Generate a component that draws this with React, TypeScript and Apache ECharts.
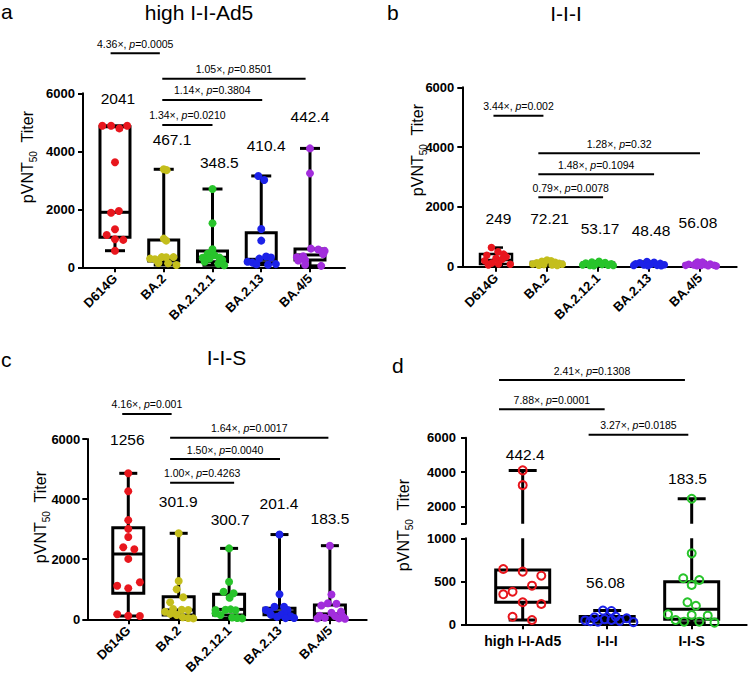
import React, { useEffect, useRef } from 'react';
import * as echarts from 'echarts';

// ---------------- categories & ticks ----------------
const variants = ['D614G', 'BA.2', 'BA.2.12.1', 'BA.2.13', 'BA.4/5'];
const regimens = ['high I-I-Ad5', 'I-I-I', 'I-I-S'];
const panelTitles = ['high I-I-Ad5', 'I-I-I', 'I-I-S'];
const panelLetters = ['a', 'b', 'c', 'd'];

// ---------------- panel a (high I-I-Ad5) ----------------
const aD614G = [4880, 4880, 4790, 4880, 3620, 1880, 1940, 1310, 1115, 965, 945, 572];
const aBA2 = [3380, 3350, 990, 920, 300, 280, 350, 345, 350, 150, 140, 80];
const aBA2121 = [2700, 1520, 620, 470, 420, 340, 330, 300, 250, 190, 120, 70];
const aBA213 = [3150, 3010, 1320, 920, 370, 340, 300, 190, 160, 110, 100, 90];
const highAd5BA45 = [4100, 3240, 643, 612, 565, 449, 379, 349, 256, 236, 88, 50];
const boxA = [
  [572, 1034, 1897, 4848, 4880],
  [80, 217, 310, 941, 3380],
  [70, 193, 345, 560, 2700],
  [90, 159, 276, 1193, 3150],
  [50, 256, 426, 631, 4100],
];
const gmtA = ['2041', '467.1', '348.5', '410.4', '442.4'];
const cmpA = [['4.36×', '0.0005'], ['1.05×', '0.8501'], ['1.14×', '0.3804'], ['1.34×', '0.0210']];

// ---------------- panel b (I-I-I) ----------------
const bD614G = [640, 500, 420, 380, 330, 280, 250, 200, 120, 90, 80, 60];
const bBA2 = [220, 200, 180, 150, 130, 110, 90, 80, 70, 60, 50, 40];
const bBA2121 = [180, 160, 140, 120, 100, 90, 70, 60, 50, 40, 40, 30];
const bBA213 = [170, 150, 130, 110, 95, 80, 65, 55, 45, 40, 35, 30];
const iiiBA45 = [160, 155, 90, 80, 70, 60, 50, 45, 40, 35, 30, 25];
const boxB = [
  [60, 90, 224, 425, 640],
  [40, 65, 100, 160, 220],
  [30, 45, 80, 130, 180],
  [30, 40, 72, 120, 170],
  [25, 35, 55, 90, 160],
];
const gmtB = ['249', '72.21', '53.17', '48.48', '56.08'];
const cmpB = [['3.44×', '0.002'], ['1.28×', '0.32'], ['1.48×', '0.1094'], ['0.79×', '0.0078']];

// ---------------- panel c (I-I-S) ----------------
const cD614G = [4858, 4260, 3300, 3010, 2740, 2400, 2330, 2010, 1231, 1118, 1032, 166, 120, 110];
const cBA2 = [2862, 1275, 998, 732, 566, 340, 320, 310, 253, 180, 143, 70, 43, 30];
const cBA2121 = [2360, 1252, 918, 865, 720, 330, 320, 310, 300, 200, 143, 60, 43, 30];
const cBA213 = [2820, 832, 420, 420, 310, 310, 253, 200, 150, 150, 100, 80, 43, 40];
const iisBA45 = [2450, 825, 535, 515, 457, 256, 216, 116, 108, 100, 50, 30, 30, 19];
const boxC = [
  [110, 865, 2173, 3049, 4858],
  [30, 143, 310, 753, 2862],
  [30, 143, 330, 832, 2360],
  [40, 150, 250, 370, 2820],
  [19, 60, 180, 476, 2450],
];
const gmtC = ['1256', '301.9', '300.7', '201.4', '183.5'];
const cmpC = [['4.16×', '0.001'], ['1.64×', '0.0017'], ['1.50×', '0.0040'], ['1.00×', '0.4263']];

// ---------------- panel d (BA.4/5 across regimens) ----------------
const boxD = [
  [50, 256, 426, 631, 4100],
  [25, 35, 55, 90, 160],
  [19, 60, 175, 495, 2450],
];
const gmtD = ['442.4', '56.08', '183.5'];
const cmpD = [['2.41×', '0.1308'], ['7.88×', '0.0001'], ['3.27×', '0.0185']];

// ---------------- layout (jitter, label and bracket placement) ----------------
const jitA = [
  [-0.26, -0.08, 0.09, 0.25, 0, -0.08, 0.08, 0, -0.17, 0, 0.17, 0],
  [0, 0.06, 0, 0.05, -0.28, -0.18, -0.04, 0.05, 0.2, -0.11, 0.09, 0.26],
  [0, 0, 0, -0.1, 0.04, 0.14, -0.2, -0.06, 0.2, -0.16, 0.12, 0.24],
  [-0.06, 0.06, 0, 0, 0.1, 0.2, -0.04, -0.28, -0.18, 0.3, -0.1, 0.14],
  [0, 0, 0.02, 0.17, 0.3, 0.27, -0.14, -0.27, -0.1, -0.24, -0.1, 0.23],
];
const jitB = [
  [-0.09, 0.04, 0.15, -0.18, 0.2, 0, 0.12, -0.22, -0.08, 0.05, 0.28, -0.15],
  [0, 0.08, -0.1, 0.16, -0.2, 0.24, -0.28, 0.3, -0.06, 0.1, -0.16, 0.2],
  [0.02, -0.12, 0.14, -0.24, 0.26, -0.04, 0.08, -0.3, 0.2, -0.16, 0.3, -0.08],
  [-0.04, 0.1, -0.18, 0.22, -0.26, 0.04, 0.3, -0.1, 0.16, -0.3, 0.24, -0.02],
  [-0.05, 0.05, 0.2, -0.22, 0.1, -0.12, 0.28, -0.28, 0.02, 0.16, -0.06, 0.32],
];
const jitC = [
  [0, 0, 0, 0, 0, -0.1, 0.12, 0, 0.23, -0.22, 0, -0.22, 0, 0.23],
  [0, 0, -0.04, 0.09, -0.17, -0.11, 0.06, 0.19, -0.27, -0.17, -0.04, 0.08, 0.19, 0.29],
  [0, 0, -0.11, 0.09, 0.01, 0.03, -0.07, -0.27, 0.13, -0.27, -0.17, 0.06, 0.16, 0.26],
  [0, 0, -0.1, 0.09, 0.16, -0.27, -0.2, 0.09, 0.03, -0.17, 0.22, -0.05, 0.29, 0.12],
  [0, 0.03, -0.04, 0.13, -0.17, 0.22, 0.03, -0.2, 0.1, 0.25, -0.1, 0.18, -0.25, 0.3],
];
const jitD = [
  [0, 0, -0.23, 0, 0.22, 0.11, -0.12, -0.23, 0, 0.22, -0.12, 0.11],
  [-0.05, 0.05, 0.1, -0.15, 0.23, -0.03, 0.05, -0.26, 0.15, -0.2, -0.11, 0.31],
  [0, 0, -0.1, 0.09, 0, -0.05, 0.05, -0.28, 0, 0.19, -0.19, -0.09, 0.09, 0.27],
];
const gmtPosA = [[0.06, 5828], [1.17, 4414], [2.14, 3607], [3.1, 4183], [4.0, 5193]];
const gmtPosB = [[0.05, 1619], [1.05, 1619], [2.04, 1284], [3.04, 1204], [3.96, 1472]];
const gmtPosC = [[-0.02, 5967], [0.99, 3913], [2.02, 3328], [2.99, 3837], [4.0, 3361]];
const gmtPosD = [[0.03, 5041, 'upper'], [0.98, 484, 'lower'], [1.95, 3612, 'upper']];
const brA = [[-0.09, 0.92, 7380], [0.97, 3.91, 6503], [0.97, 3.02, 5769], [0.97, 2.0, 4907]];
const brB = [[-0.05, 0.93, 5050], [0.83, 4.0, 3793], [0.83, 3.1, 3090], [0.83, 2.1, 2321]];
const brC = [[-0.12, 0.86, 6832], [0.83, 3.97, 6043], [0.83, 3.01, 5334], [0.83, 2.1, 4546]];
const brD = [[-0.28, 1.92, 9353], [-0.28, 0.97, 7647], [0.78, 1.96, 6176]];

const variantColors = ['#e8161d', '#c4be1c', '#28c42b', '#1c22e8', '#a22ddc'];
const regimenColors = ['#e8161d', '#1c22e8', '#28c42b'];
const FF = "'Liberation Sans', Arial, Helvetica, sans-serif";

const grids = [
  { left: 83, top: 93.3, width: 262, height: 174 },
  { left: 462.3, top: 87.3, width: 274.4, height: 179.4 },
  { left: 87.3, top: 439, width: 279.4, height: 180.3 },
  { left: 466, top: 437.7, width: 280.7, height: 86 },
  { left: 466, top: 538.3, width: 280.7, height: 86 },
];
const xRanges = [[-0.656, 4.718], [-0.661, 4.72], [-0.813, 4.73], [-0.671, 2.651], [-0.671, 2.651]];

const AX = { color: '#000', width: 2 };

function xAxisCfg(gi: number, names: string[], rotate: number, fontSize: number, show: boolean) {
  const idx = names.map((_, i) => i);
  return {
    type: 'value', gridIndex: gi, min: xRanges[gi][0], max: xRanges[gi][1], show,
    splitLine: { show: false },
    axisLine: { show: true, onZero: false, lineStyle: AX },
    axisTick: { show: true, customValues: idx, length: 5, lineStyle: AX },
    axisLabel: {
      show: true, customValues: idx, rotate, margin: rotate ? 9 : 10,
      formatter: (v: number) => names[Math.round(v)] ?? '',
      color: '#000', fontWeight: 'bold', fontSize, fontFamily: FF,
    },
  };
}

function yAxisCfg(gi: number, min: number, max: number, interval: number | undefined, extra: any = {}) {
  return {
    type: 'value', gridIndex: gi, min, max, interval,
    splitLine: { show: false },
    axisLine: { show: true, onZero: false, lineStyle: AX },
    axisTick: { show: true, length: 5, lineStyle: AX, ...(extra.tick || {}) },
    axisLabel: {
      margin: 8, color: '#000', fontWeight: 'bold', fontSize: 13, fontFamily: FF,
      formatter: (v: number) => String(Math.round(v)),
      ...(extra.label || {}),
    },
  };
}

function boxSeries(gi: number, boxes: number[][], boxW: number, capW: number, lw: number, clip: boolean) {
  return {
    type: 'custom', xAxisIndex: gi, yAxisIndex: gi, clip, silent: true, z: 3,
    data: boxes.map((b, i) => [i, ...b]),
    renderItem: (_p: any, api: any) => {
      const x = api.value(0);
      const pts = [1, 2, 3, 4, 5].map((k) => api.coord([x, api.value(k)]));
      const cx = pts[0][0];
      const [pMin, pQ1, pMed, pQ3, pMax] = pts.map((p: number[]) => p[1]);
      const st = { stroke: '#000', lineWidth: lw, fill: null };
      const ln = (x1: number, y1: number, x2: number, y2: number) => ({ type: 'line', shape: { x1, y1, x2, y2 }, style: st });
      return {
        type: 'group',
        children: [
          ln(cx, pMax, cx, pQ3),
          ln(cx, pQ1, cx, pMin),
          ln(cx - capW / 2, pMax, cx + capW / 2, pMax),
          ln(cx - capW / 2, pMin, cx + capW / 2, pMin),
          { type: 'rect', shape: { x: cx - boxW / 2, y: pQ3, width: boxW, height: pQ1 - pQ3 }, style: { stroke: '#000', lineWidth: lw, fill: 'none' } },
          ln(cx - boxW / 2, pMed, cx + boxW / 2, pMed),
        ],
      };
    },
  };
}

function dotSeries(gi: number, cat: number, values: number[], jit: number[], color: string, size: number, hollow: boolean, keep?: (v: number) => boolean) {
  const data = values.map((v, i) => [cat + jit[i], v]).filter((d) => (keep ? keep(d[1]) : true));
  return {
    type: 'scatter', xAxisIndex: gi, yAxisIndex: gi, silent: true, z: 4,
    symbol: 'circle', symbolSize: size, clip: false,
    itemStyle: hollow
      ? { color: 'rgba(255,255,255,0)', borderColor: color, borderWidth: 2, opacity: 1 }
      : { color, opacity: 1 },
    data,
  };
}

function cmpText(c: string[]) {
  return `{n|${c[0]}, }{i|p}{n|=${c[1]}}`;
}
const cmpRich = {
  n: { fontSize: 10.5, fontFamily: FF, fill: '#000', color: '#000' },
  i: { fontSize: 10.5, fontFamily: FF, fontStyle: 'italic', fill: '#000', color: '#000' },
};

function bracketSeries(gi: number, cmp: string[][], pos: number[][]) {
  return {
    type: 'custom', xAxisIndex: gi, yAxisIndex: gi, clip: false, silent: true, z: 5,
    data: pos.map((p) => [p[0], p[1], p[2]]),
    renderItem: (params: any, api: any) => {
      const p1 = api.coord([api.value(0), api.value(2)]);
      const p2 = api.coord([api.value(1), api.value(2)]);
      return {
        type: 'group',
        children: [
          { type: 'line', shape: { x1: p1[0], y1: p1[1], x2: p2[0], y2: p2[1] }, style: { stroke: '#000', lineWidth: 2 } },
          {
            type: 'text', x: (p1[0] + p2[0]) / 2, y: p1[1] - 4,
            style: { text: cmpText(cmp[params.dataIndex]), rich: cmpRich, align: 'center', verticalAlign: 'bottom', textAlign: 'center', textVerticalAlign: 'bottom', fontSize: 10.5, fontFamily: FF, fill: '#000' },
          },
        ],
      };
    },
  };
}

function gmtSeries(gi: number, texts: string[], pos: any[]) {
  return {
    type: 'custom', xAxisIndex: gi, yAxisIndex: gi, clip: false, silent: true, z: 5,
    data: pos.map((p) => [p[0], p[1]]),
    renderItem: (params: any, api: any) => {
      const p = api.coord([api.value(0), api.value(1)]);
      return {
        type: 'text', x: p[0], y: p[1],
        style: { text: texts[params.dataIndex], align: 'center', verticalAlign: 'middle', textAlign: 'center', textVerticalAlign: 'middle', fontSize: 15.5, fontFamily: FF, fill: '#000' },
      };
    },
  };
}

function gText(text: string, x: number, y: number, size: number, align = 'center') {
  return {
    type: 'text', x, y, silent: true,
    style: { text, fontSize: size, fontFamily: FF, fill: '#000', align, verticalAlign: 'middle', textAlign: align, textVerticalAlign: 'middle' },
  };
}

const yNameRich = {
  a: { fontSize: 16, lineHeight: 16, verticalAlign: 'top', fontFamily: FF, fill: '#000', color: '#000' },
  s: { fontSize: 10, lineHeight: 10, padding: [9, 0, 0, 0], verticalAlign: 'top', fontFamily: FF, fill: '#000', color: '#000' },
};
function yName(x: number, y: number) {
  return {
    type: 'text', x, y, rotation: Math.PI / 2, silent: true,
    style: { text: '{a|pVNT}{s|50}{a|  Titer}', rich: yNameRich, align: 'center', verticalAlign: 'middle', textAlign: 'center', textVerticalAlign: 'middle', fontSize: 16, fontFamily: FF, fill: '#000' },
  };
}

export default function App() {
  const ref = useRef<HTMLDivElement>(null);
  useEffect(() => {
    if (!ref.current) return;
    const chart = echarts.init(ref.current, null, { renderer: 'svg' });
    const aVals = [aD614G, aBA2, aBA2121, aBA213, highAd5BA45];
    const bVals = [bD614G, bBA2, bBA2121, bBA213, iiiBA45];
    const cVals = [cD614G, cBA2, cBA2121, cBA213, iisBA45];
    const dVals = [highAd5BA45, iiiBA45, iisBA45];
    const series: any[] = [
      boxSeries(0, boxA, 30, 20, 3, false),
      boxSeries(1, boxB, 32, 14, 2.5, false),
      boxSeries(2, boxC, 31, 18, 3, false),
      boxSeries(3, boxD, 54, 28, 3, true),
      boxSeries(4, boxD, 54, 28, 3, true),
    ];
    aVals.forEach((v, i) => series.push(dotSeries(0, i, v, jitA[i], variantColors[i], 8, false)));
    bVals.forEach((v, i) => series.push(dotSeries(1, i, v, jitB[i], variantColors[i], 7.5, false)));
    cVals.forEach((v, i) => series.push(dotSeries(2, i, v, jitC[i], variantColors[i], 8, false)));
    dVals.forEach((v, i) => {
      series.push(dotSeries(3, i, v, jitD[i], regimenColors[i], 8, true, (y) => y > 1000));
      series.push(dotSeries(4, i, v, jitD[i], regimenColors[i], 8, true, (y) => y <= 1000));
    });
    series.push(bracketSeries(0, cmpA, brA));
    series.push(bracketSeries(1, cmpB, brB));
    series.push(bracketSeries(2, cmpC, brC));
    series.push(bracketSeries(3, cmpD, brD));
    series.push(gmtSeries(0, gmtA, gmtPosA));
    series.push(gmtSeries(1, gmtB, gmtPosB));
    series.push(gmtSeries(2, gmtC, gmtPosC));
    const upIdx = gmtPosD.map((p, i) => (p[2] === 'upper' ? i : -1)).filter((i) => i >= 0);
    const loIdx = gmtPosD.map((p, i) => (p[2] === 'lower' ? i : -1)).filter((i) => i >= 0);
    series.push(gmtSeries(3, upIdx.map((i) => gmtD[i]), upIdx.map((i) => gmtPosD[i])));
    series.push(gmtSeries(4, loIdx.map((i) => gmtD[i]), loIdx.map((i) => gmtPosD[i])));

    const option: any = {
      animation: false,
      backgroundColor: '#fff',
      grid: grids.map((g) => ({ ...g, containLabel: false, outerBoundsMode: 'none' })),
      xAxis: [
        xAxisCfg(0, variants, 45, 13, true),
        xAxisCfg(1, variants, 45, 13, true),
        xAxisCfg(2, variants, 45, 13, true),
        xAxisCfg(3, regimens, 0, 14, false),
        xAxisCfg(4, regimens, 0, 14, true),
      ],
      yAxis: [
        yAxisCfg(0, 0, 6000, 2000),
        yAxisCfg(1, 0, 6000, 2000),
        yAxisCfg(2, 0, 6000, 2000, { label: { margin: 7 } }),
        yAxisCfg(3, 1000, 6000, undefined, { tick: { customValues: [1000, 2000, 4000, 6000] }, label: { customValues: [2000, 4000, 6000], margin: 10 } }),
        yAxisCfg(4, 0, 1000, 500, { label: { margin: 10 } }),
      ],
      series,
      graphic: [
        gText(panelLetters[0], 1, 11, 21, 'left'),
        gText(panelLetters[1], 387, 12, 21, 'left'),
        gText(panelLetters[2], 1, 359, 21, 'left'),
        gText(panelLetters[3], 392, 365, 21, 'left'),
        gText(panelTitles[0], 199, 12, 21),
        gText(panelTitles[1], 566, 13, 21),
        gText(panelTitles[2], 226.5, 357, 21),
        yName(27, 157),
        yName(417, 150),
        yName(40, 517),
        yName(403, 525),
      ],
    };
    chart.setOption(option);
    return () => chart.dispose();
  }, []);
  return <div ref={ref} style={{ position: 'absolute', left: 0, top: 0, width: 750, height: 683, background: '#fff' }} />;
}
